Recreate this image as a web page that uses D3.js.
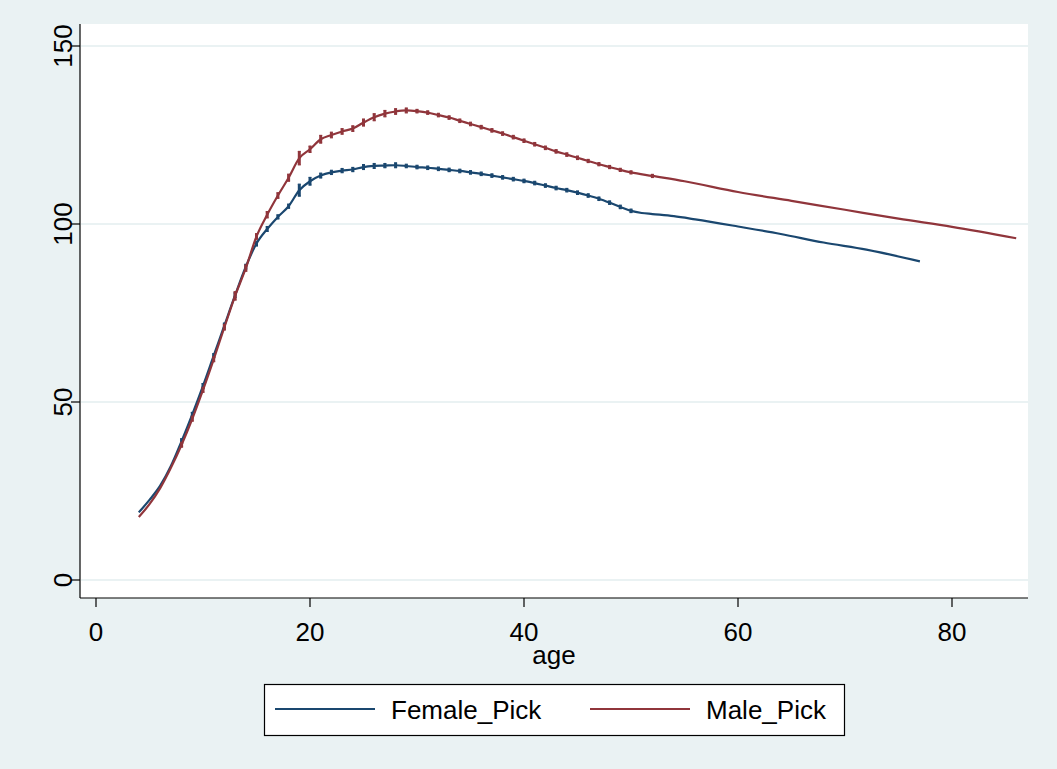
<!DOCTYPE html>
<html>
<head>
<meta charset="utf-8">
<script src="https://cdn.jsdelivr.net/npm/d3@7"></script>
<style>
  body { margin: 0; background: #eaf2f3; }
  svg { display: block; font-family: "Liberation Sans", Arial, sans-serif; }
</style>
</head>
<body>
<script>
// data
var femaleAge = [4,5,6,7,8,9,10,11,12,13,14,15,16,17,18,19,20,21,22,23,24,25,26,27,28,29,30,31,32,33,34,35,36,37,38,39,40,41,42,43,44,45,46,47,48,49,50,51,52,54,56,60,64,68,72,77];
var femalePick = [19,22.5,26.5,32,39,46.5,54.5,63,71.5,80,88,94.5,98.6,102,105,109.5,112,113.6,114.5,115,115.3,116,116.3,116.4,116.5,116.3,116,115.8,115.5,115.2,114.9,114.5,114.1,113.6,113.1,112.6,112.1,111.5,110.8,110.1,109.5,108.8,108,107.1,106,104.8,103.7,103.1,102.8,102.2,101.3,99.3,97.2,94.8,92.8,89.5];
var femaleCI = [0,0,0,0,0.4,0.3,0.4,0.3,0.4,0.4,0.4,0.4,0.4,0.3,0.3,1.4,0.8,0.4,0.3,0.3,0.3,0.4,0.4,0.3,0.4,0.2,0.2,0.2,0.2,0.2,0.2,0.2,0.2,0.2,0.2,0.2,0.2,0.2,0.2,0.2,0.2,0.2,0.2,0.2,0.2,0.2,0.2,0,0,0,0,0,0,0,0,0];

var maleAge = [4,5,6,7,8,9,10,11,12,13,14,15,16,17,18,19,20,21,22,23,24,25,26,27,28,29,30,31,32,33,34,35,36,37,38,39,40,41,42,43,44,45,46,47,48,49,50,52,55,60,65,70,75,80,86];
var malePick = [17.7,21.3,25.8,31.5,38,45.3,53.4,62,71,79.8,87.6,96.5,102.6,108,113,118.5,121,123.8,125,126,126.8,128.5,130,131,131.6,131.9,131.7,131.3,130.6,129.9,129,128.1,127.2,126.3,125.4,124.4,123.4,122.4,121.4,120.4,119.5,118.6,117.7,116.8,116,115.2,114.5,113.5,112,109,106.5,104,101.5,99.2,96];
var maleCI = [0,0,0,0,0.4,0.4,0.4,0.4,0.5,0.9,0.6,0.5,0.6,0.5,0.7,1.6,0.6,0.8,0.5,0.5,0.5,0.7,0.7,0.6,0.5,0.4,0.2,0.2,0.2,0.2,0.2,0.2,0.2,0.2,0.2,0.2,0.2,0.2,0.2,0.2,0.2,0.2,0.15,0.15,0.15,0.15,0.15,0.15,0,0,0,0,0,0,0];

var xTicks = [0, 20, 40, 60, 80];
var yTicks = [0, 50, 100, 150];
var seriesNames = ["Female_Pick", "Male_Pick"];
var seriesColors = ["#1a476f", "#90353b"];

var width = 1057, height = 769;
var plotLeft = 80, plotRight = 1028, plotTop = 24, plotBottom = 598;

var svg = d3.select("body").append("svg")
  .attr("width", width)
  .attr("height", height);

svg.append("rect")
  .attr("width", width).attr("height", height)
  .attr("fill", "#eaf2f3");

svg.append("rect")
  .attr("x", plotLeft).attr("y", plotTop)
  .attr("width", plotRight - plotLeft).attr("height", plotBottom - plotTop)
  .attr("fill", "white");

var x = d3.scaleLinear().domain([0, 80]).range([96, 952]);
var y = d3.scaleLinear().domain([0, 150]).range([580, 46]);

// gridlines
svg.selectAll(".grid")
  .data(yTicks)
  .enter().append("line")
  .attr("class", "grid")
  .attr("x1", plotLeft + 1).attr("x2", plotRight)
  .attr("y1", d => y(d)).attr("y2", d => y(d))
  .attr("stroke", "#eaf2f3")
  .attr("stroke-width", 2);

// series
var series = [
  { age: femaleAge, val: femalePick, ci: femaleCI },
  { age: maleAge, val: malePick, ci: maleCI }
];

var line = d3.line()
  .x(d => x(d[0]))
  .y(d => y(d[1]))
  .curve(d3.curveMonotoneX);

series.forEach(function(s, i) {
  var pts = s.age.map((a, j) => [a, s.val[j], s.ci[j]]);
  var g = svg.append("g");
  g.append("path")
    .datum(pts)
    .attr("d", line)
    .attr("fill", "none")
    .attr("stroke", seriesColors[i])
    .attr("stroke-width", 2.2);

  // confidence caps (rcap)
  var caps = g.selectAll(".cap")
    .data(pts.filter(d => d[2] > 0))
    .enter().append("g");
  caps.append("line")
    .attr("x1", d => x(d[0])).attr("x2", d => x(d[0]))
    .attr("y1", d => y(d[1] - d[2]) + 1).attr("y2", d => y(d[1] + d[2]) - 1)
    .attr("stroke", seriesColors[i])
    .attr("stroke-width", 3);
  caps.append("line")
    .attr("x1", d => x(d[0]) - 1.5).attr("x2", d => x(d[0]) + 1.5)
    .attr("y1", d => y(d[1] - d[2]) + 1).attr("y2", d => y(d[1] - d[2]) + 1)
    .attr("stroke", seriesColors[i]).attr("stroke-width", 1.2);
  caps.append("line")
    .attr("x1", d => x(d[0]) - 1.5).attr("x2", d => x(d[0]) + 1.5)
    .attr("y1", d => y(d[1] + d[2]) - 1).attr("y2", d => y(d[1] + d[2]) - 1)
    .attr("stroke", seriesColors[i]).attr("stroke-width", 1.2);
});

// axes
svg.append("line")
  .attr("x1", plotLeft).attr("x2", plotLeft)
  .attr("y1", plotTop).attr("y2", plotBottom)
  .attr("stroke", "black").attr("stroke-width", 1.2);
svg.append("line")
  .attr("x1", plotLeft).attr("x2", plotRight)
  .attr("y1", plotBottom).attr("y2", plotBottom)
  .attr("stroke", "black").attr("stroke-width", 1.2);

svg.selectAll(".ytick")
  .data(yTicks)
  .enter().append("line")
  .attr("x1", plotLeft - 9).attr("x2", plotLeft)
  .attr("y1", d => y(d)).attr("y2", d => y(d))
  .attr("stroke", "black").attr("stroke-width", 1.2);

svg.selectAll(".ylab")
  .data(yTicks)
  .enter().append("text")
  .attr("transform", d => "translate(72," + y(d) + ") rotate(-90)")
  .attr("text-anchor", "middle")
  .attr("font-size", 26)
  .text(d => d);

svg.selectAll(".xtick")
  .data(xTicks)
  .enter().append("line")
  .attr("x1", d => x(d)).attr("x2", d => x(d))
  .attr("y1", plotBottom).attr("y2", plotBottom + 9)
  .attr("stroke", "black").attr("stroke-width", 1.2);

svg.selectAll(".xlab")
  .data(xTicks)
  .enter().append("text")
  .attr("x", d => x(d)).attr("y", 641)
  .attr("text-anchor", "middle")
  .attr("font-size", 26)
  .text(d => d);

svg.append("text")
  .attr("x", (plotLeft + plotRight) / 2).attr("y", 664)
  .attr("text-anchor", "middle")
  .attr("font-size", 26)
  .text("age");

// legend
var legend = svg.append("g");
legend.append("rect")
  .attr("x", 264.5).attr("y", 684.5)
  .attr("width", 580).attr("height", 51)
  .attr("fill", "white")
  .attr("stroke", "black").attr("stroke-width", 1.2);

var legendX = [275, 590];
seriesNames.forEach(function(name, i) {
  legend.append("line")
    .attr("x1", legendX[i]).attr("x2", legendX[i] + 100)
    .attr("y1", 709).attr("y2", 709)
    .attr("stroke", seriesColors[i]).attr("stroke-width", 2.2);
  legend.append("text")
    .attr("x", legendX[i] + 116).attr("y", 719)
    .attr("font-size", 26)
    .text(name);
});
</script>
</body>
</html>
